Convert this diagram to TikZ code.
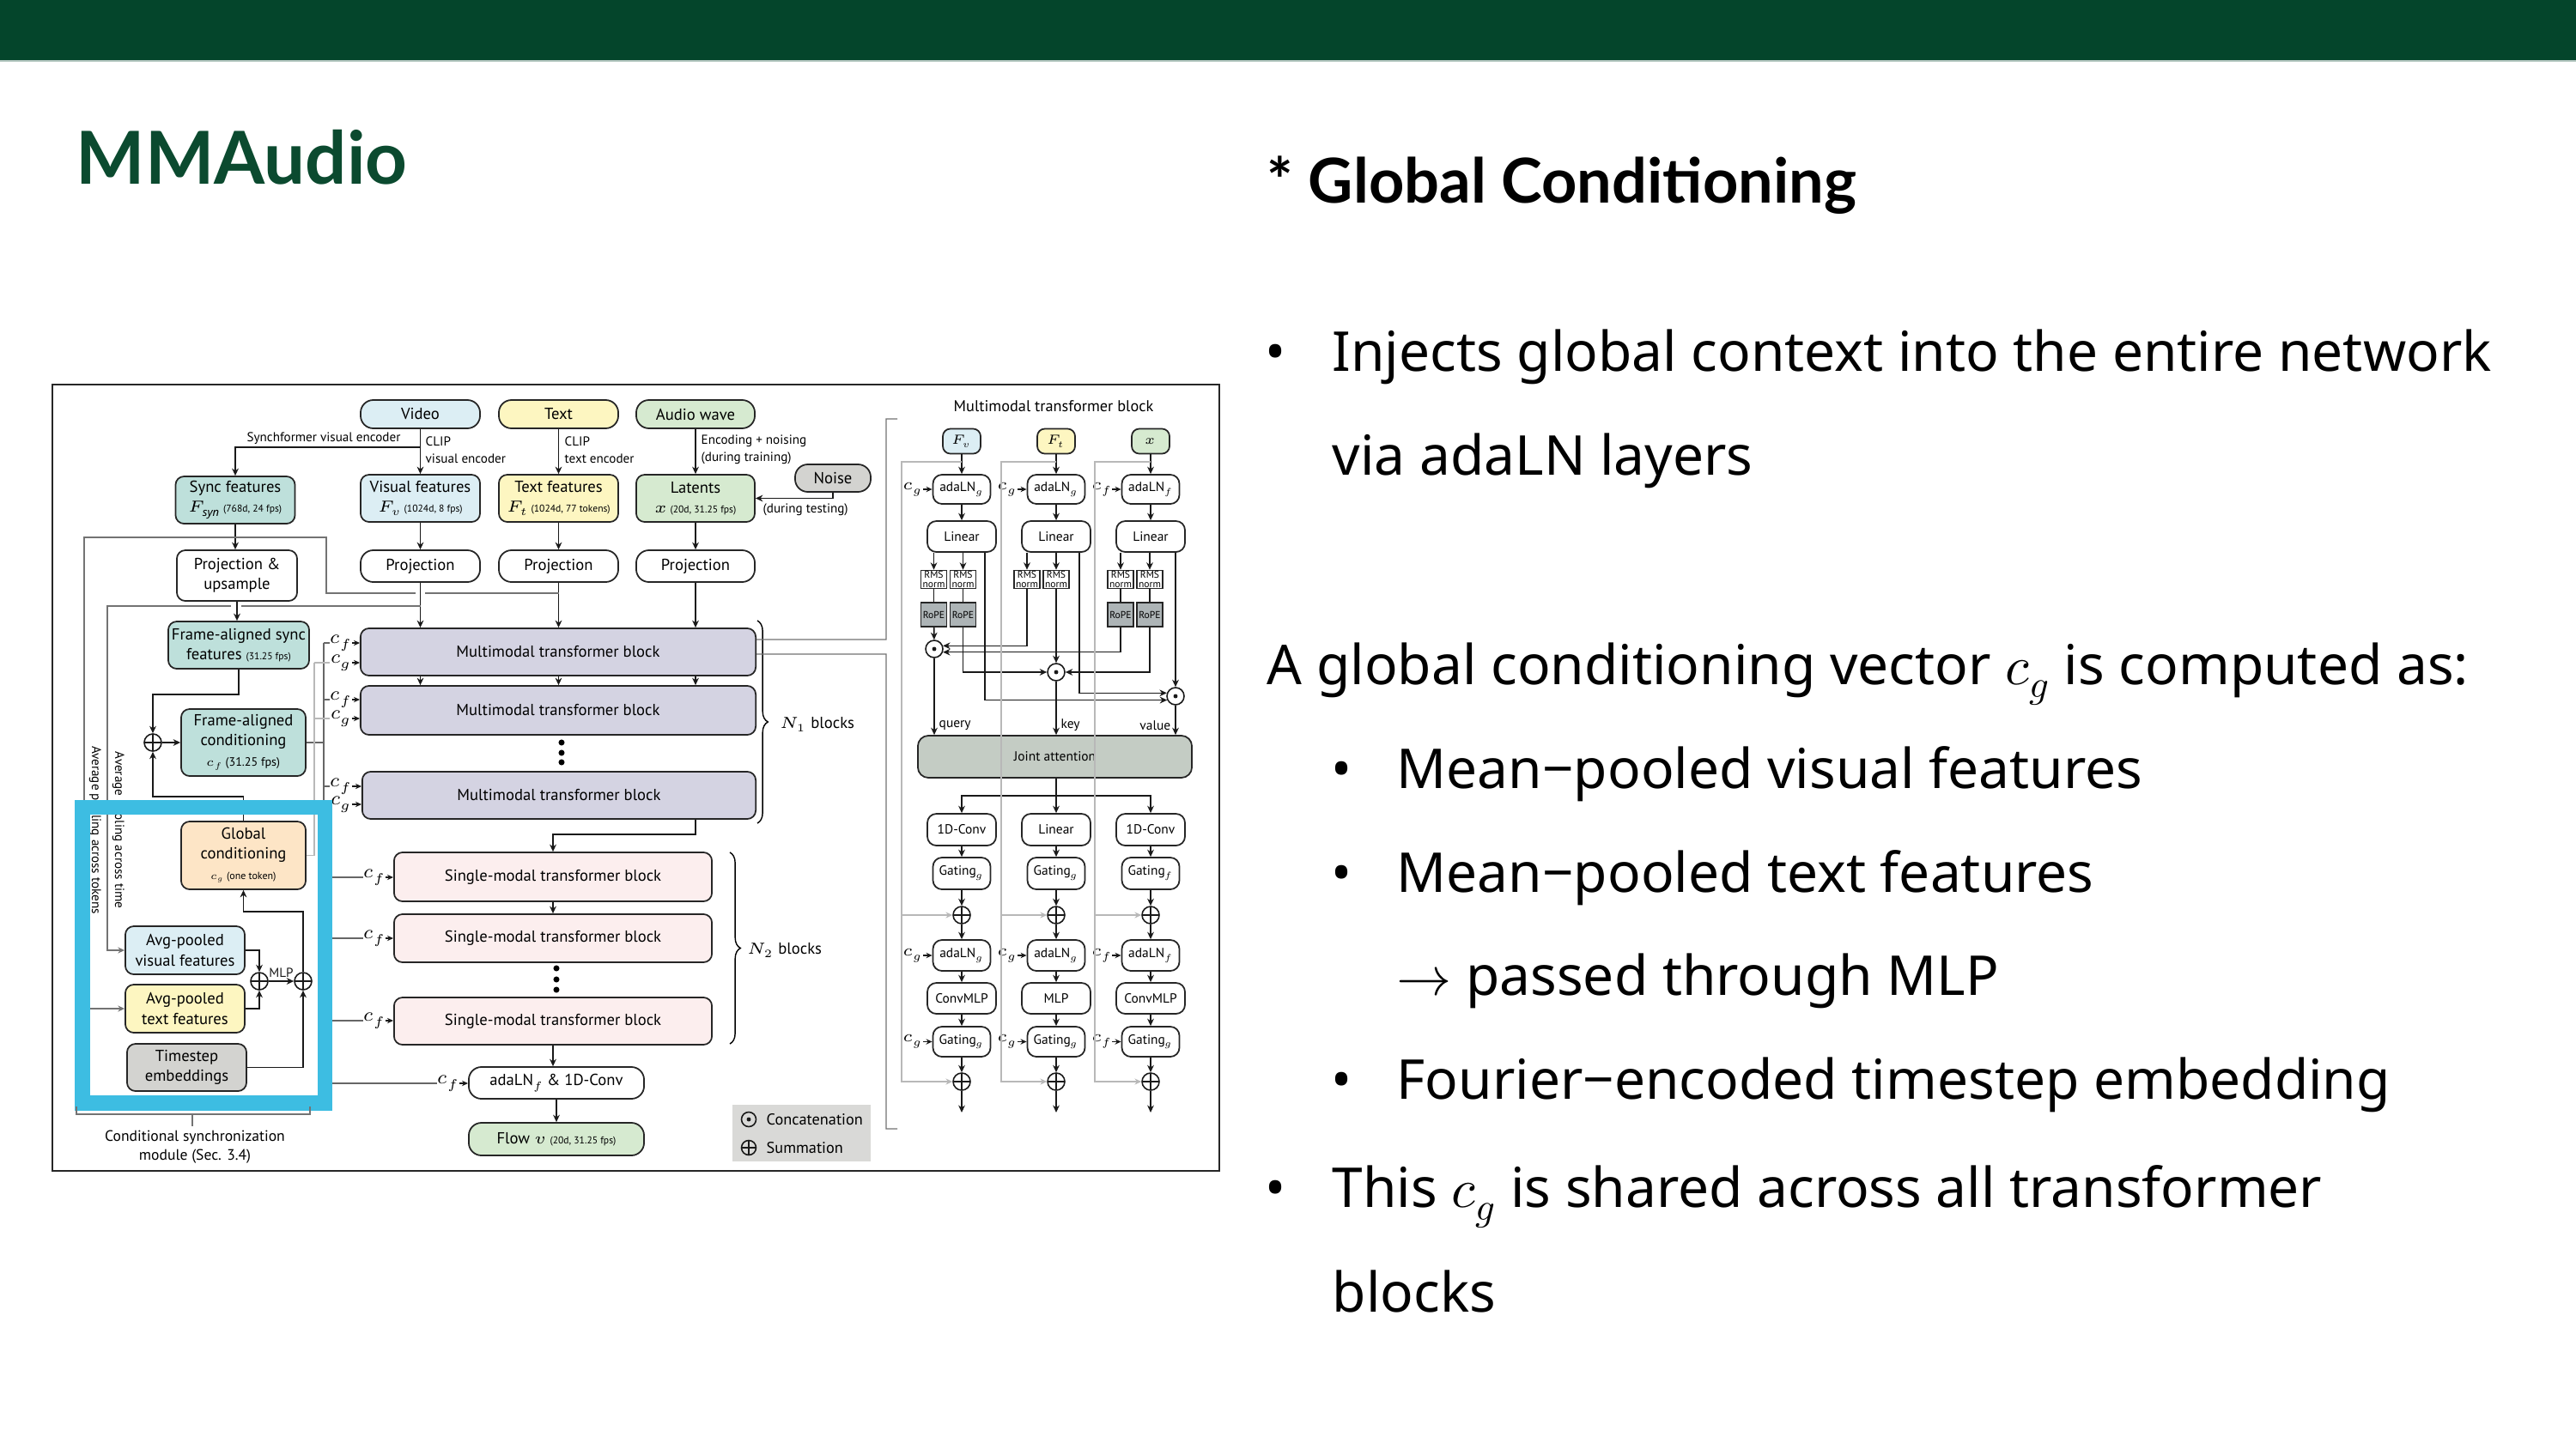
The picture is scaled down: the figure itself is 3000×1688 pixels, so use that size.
\documentclass[tikz,border=0pt]{standalone}
\usepackage{fontspec}
\usepackage{unicode-math}
\setmainfont{Noto Sans}
\newfontfamily\dfont{PT Sans}
\newfontfamily\lfont{Lato}
\usetikzlibrary{arrows.meta,calc,decorations.pathreplacing}
\definecolor{hdr}{HTML}{04452B}
\definecolor{ttlg}{HTML}{0B4A2F}
\definecolor{cblue}{HTML}{DCEEF4}
\definecolor{cyel}{HTML}{FDF6C1}
\definecolor{cgrn}{HTML}{D6EAD0}
\definecolor{cteal}{HTML}{BEE0DB}
\definecolor{corg}{HTML}{FDE5C6}
\definecolor{clav}{HTML}{D4D3E2}
\definecolor{cpink}{HTML}{FCEEEE}
\definecolor{cgry}{HTML}{D3D3D0}
\definecolor{catt}{HTML}{C4CCC4}
\definecolor{crope}{HTML}{ADB4B6}
\definecolor{cleg}{HTML}{D9D9D7}
\definecolor{hilite}{HTML}{3DBDE2}
\newcommand\smallnote[1]{{\fontsize{3.3}{4}\selectfont #1}}
\begin{document}
\begin{tikzpicture}[x=0.01cm,y=-0.01cm,
  nd/.style={draw=black!85, line width=0.5pt, rounded corners=2.8pt, align=center, inner sep=0pt, font=\dfont\fontsize{5.3}{6.6}\selectfont},
  pill/.style={nd, rounded corners=4.2pt},
  pn/.style={nd, font=\dfont\fontsize{4.4}{5.2}\selectfont, rounded corners=3pt},
  rmsbox/.style={draw=black!85, line width=0.45pt, fill=white, minimum width=0.30cm, minimum height=0.21cm, inner sep=0pt, align=center, font=\dfont\fontsize{3.3}{3.0}\selectfont},
  ropebox/.style={rmsbox, fill=crope, minimum height=0.28cm},
  arr/.style={-{Stealth[length=2.4pt,width=2.2pt]}, line width=0.45pt, black!90},
  sarr/.style={-{Stealth[length=2pt,width=1.8pt]}, line width=0.45pt, black!90},
  lnk/.style={line width=0.45pt, black!90},
  gl/.style={line width=0.4pt, black!55},
  cfl/.style={line width=0.4pt, black!60},
  lg/.style={line width=0.4pt, black!28},
  garr/.style={-{Stealth[length=2.2pt,width=2pt]}},
  lbl/.style={font=\dfont\fontsize{4.3}{5.6}\selectfont, inner sep=0pt, align=left},
  cmk/.style={inner sep=0pt, font=\fontsize{6.3}{7}\selectfont},
  cmrk/.style={inner sep=0pt, font=\fontsize{5.3}{6}\selectfont},
  sumn/.style={circle, draw=black!90, line width=0.45pt, minimum size=0.2cm, inner sep=0pt, path picture={\draw[line width=0.45pt, black!90] (path picture bounding box.north) -- (path picture bounding box.south) (path picture bounding box.west) -- (path picture bounding box.east);}},
  catn/.style={circle, draw=black!90, fill=white, line width=0.45pt, minimum size=0.2cm, inner sep=0pt, path picture={\fill[black!90] (path picture bounding box.center) circle (0.7pt);}},
  bodytxt/.style={anchor=base west, inner sep=0pt, font=\fontsize{18.2}{22}\selectfont},
  bul/.style={anchor=base, inner sep=0pt, font=\fontsize{18.2}{22}\selectfont},
]
% ---------- background ----------
\fill[white] (0,0) rectangle (3000,1688);
\path[use as bounding box] (0,0) rectangle (3000,1688);
\fill[hdr] (0,0) rectangle (3000,70);
\fill[hdr!30!white] (0,70) rectangle (3000,72);

% ---------- slide text ----------
\node[anchor=base west, inner sep=0pt, text=ttlg, font=\lfont\bfseries\fontsize{24.2}{29}\selectfont] (mmt) at (88,215) {MMAudio};
\node[anchor=base west, inner sep=0pt, font=\lfont\bfseries\fontsize{20.5}{25}\selectfont] (gct) at (1475,237) {* Global Conditioning};
\node[bul] (u1) at (1486,432) {•};
\node[bodytxt] (t1) at (1551,432) {Injects global context into the entire network};
\node[bodytxt] (t2) at (1551,553) {via adaLN layers};
\node[bodytxt] (t3) at (1475,797) {A global conditioning vector $c_g$ is computed as:};
\node[bul] (u2) at (1563,918) {•};
\node[bodytxt] (t4) at (1626,918) {Mean−pooled visual features};
\node[bul] (u3) at (1563,1039) {•};
\node[bodytxt] (t5) at (1626,1039) {Mean−pooled text features};
\node[bodytxt] (t6) at (1626,1159) {$\rightarrow$ passed through MLP};
\node[bul] (u4) at (1563,1280) {•};
\node[bodytxt] (t7) at (1626,1280) {Fourier−encoded timestep embedding};
\node[bul] (u5) at (1486,1406) {•};
\node[bodytxt] (t8) at (1551,1406) {This $c_g$ is shared across all transformer};
\node[bodytxt] (t9) at (1551,1528) {blocks};

% ---------- diagram frame ----------
\draw[line width=0.6pt, black!85] (61,448) rectangle (1420,1364);

% ---------- inputs ----------
\node[pill, fill=cblue, minimum width=1.39cm, minimum height=0.33cm] (video) at (489.5,482.5) {Video};
\node[pill, fill=cyel, minimum width=1.39cm, minimum height=0.33cm] (textin) at (650.5,482.5) {Text};
\node[pill, fill=cgrn, minimum width=1.38cm, minimum height=0.33cm] (audio) at (810,482.5) {Audio wave};
\node[pill, fill=cgry, minimum width=0.88cm, minimum height=0.32cm] (noise) at (970,557) {Noise};

\node[lbl, anchor=west] (clipv) at (495,524) {CLIP\\visual encoder};
\node[lbl, anchor=west] (clipt) at (657,524) {CLIP\\text encoder};
\node[lbl, anchor=west] (encn) at (816,524) {Encoding + noising\\(during training)};
\node[lbl, anchor=west] (dtest) at (888,594) {(during testing)};
\node[lbl, anchor=south] (synch) at (377,518) {Synchformer visual encoder};

\node[nd, fill=cteal, minimum width=1.39cm, minimum height=0.55cm] (sync) at (274,582.5) {Sync features\\$F_{\mathit{syn}}$\,\smallnote{(768d, 24 fps)}};
\node[nd, fill=cblue, minimum width=1.39cm, minimum height=0.55cm] (visf) at (489.5,580.5) {Visual features\\$F_v$\,\smallnote{(1024d, 8 fps)}};
\node[nd, fill=cyel, minimum width=1.39cm, minimum height=0.55cm] (textf) at (650.5,580.5) {Text features\\$F_t$\,\smallnote{(1024d, 77 tokens)}};
\node[nd, fill=cgrn, minimum width=1.38cm, minimum height=0.55cm] (lat) at (810,580.5) {Latents\\$x$\,\smallnote{(20d, 31.25 fps)}};

\node[pill, fill=white, minimum width=1.39cm, minimum height=0.37cm] (projv) at (489.5,659.5) {Projection};
\node[pill, fill=white, minimum width=1.39cm, minimum height=0.37cm] (projt) at (650.5,659.5) {Projection};
\node[pill, fill=white, minimum width=1.38cm, minimum height=0.37cm] (proja) at (810,659.5) {Projection};
\node[nd, fill=white, minimum width=1.40cm, minimum height=0.59cm] (projs) at (276,670.5) {Projection \&\\upsample};
\node[nd, fill=cteal, minimum width=1.64cm, minimum height=0.55cm] (fas) at (278,751.5) {Frame-aligned sync\\features \smallnote{(31.25 fps)}};
\node[nd, fill=cteal, minimum width=1.45cm, minimum height=0.78cm] (fac) at (283.5,865) {Frame-aligned\\conditioning\\{\fontsize{4}{5}\selectfont$c_f$ (31.25 fps)}};
\node[nd, fill=corg, minimum width=1.45cm, minimum height=0.79cm] (glob) at (283.5,996.5) {Global\\conditioning\\{\fontsize{3.4}{4.5}\selectfont$c_g$ (one token)}};
\node[nd, fill=cblue, minimum width=1.39cm, minimum height=0.56cm] (avgv) at (215.5,1107) {Avg-pooled\\visual features};
\node[nd, fill=cyel, minimum width=1.39cm, minimum height=0.56cm] (avgt) at (215.5,1175) {Avg-pooled\\text features};
\node[nd, fill=cgry, minimum width=1.39cm, minimum height=0.55cm] (tstep) at (217.5,1243.5) {Timestep\\embeddings};
\node[sumn] (sumA) at (178,865) {};
\node[sumn] (sum1) at (302,1143) {};
\node[sumn] (sum2) at (353,1143) {};

% ---------- main column ----------
\node[nd, fill=clav, minimum width=4.60cm, minimum height=0.55cm] (mm1) at (650,759.5) {Multimodal transformer block};
\node[nd, fill=clav, minimum width=4.60cm, minimum height=0.57cm] (mm2) at (650,827.5) {Multimodal transformer block};
\node[nd, fill=clav, minimum width=4.58cm, minimum height=0.55cm] (mm3) at (651,926.5) {Multimodal transformer block};
\fill (654,865) circle (1pt) (654,877) circle (1pt) (654,888) circle (1pt);
\node[nd, fill=cpink, minimum width=3.70cm, minimum height=0.57cm] (sm1) at (644,1021.5) {Single-modal transformer block};
\node[nd, fill=cpink, minimum width=3.70cm, minimum height=0.56cm] (sm2) at (644,1093) {Single-modal transformer block};
\node[nd, fill=cpink, minimum width=3.70cm, minimum height=0.55cm] (sm3) at (644,1189.5) {Single-modal transformer block};
\fill (648,1128) circle (1pt) (648,1141) circle (1pt) (648,1153) circle (1pt);
\node[pill, fill=white, minimum width=2.04cm, minimum height=0.37cm] (ada) at (648,1261.5) {adaLN$_f$ \& 1D-Conv};
\node[pill, fill=cgrn, minimum width=2.04cm, minimum height=0.38cm] (flow) at (648,1327) {Flow $v$ \smallnote{(20d, 31.25 fps)}};

\draw[decorate, decoration={brace, amplitude=3.5pt}, line width=0.4pt] (882,723) -- (882,959);
\node[anchor=west, inner sep=0pt, font=\dfont\fontsize{5.3}{6}\selectfont] (n1) at (908,844) {$N_1$ blocks};
\draw[decorate, decoration={brace, amplitude=3.5pt}, line width=0.4pt] (850,993) -- (850,1216);
\node[anchor=west, inner sep=0pt, font=\dfont\fontsize{5.3}{6}\selectfont] (n2) at (870,1107) {$N_2$ blocks};

% ---------- main arrows ----------
\draw[arr] (video) -- (visf);
\coordinate (vb) at (489.5,521);
\draw[arr] (vb) -| (sync.north);
\draw[arr] (textin) -- (textf);
\draw[arr] (audio) -- (lat);
\draw[arr] (noise.south) |- (lat.east);
\draw[arr] (visf) -- (projv);
\draw[arr] (textf) -- (projt);
\draw[arr] (lat) -- (proja);
\draw[arr] (sync.south) -- (sync.south |- projs.north);
\draw[arr] (projs.south) -- (projs.south |- fas.north);
\draw[arr] (projv) -- (projv |- mm1.north);
\draw[arr] (projt) -- (projt |- mm1.north);
\draw[arr] (proja) -- (proja |- mm1.north);
\draw[arr] (projv |- mm1.south) -- (projv |- mm2.north);
\draw[arr] (projt |- mm1.south) -- (projt |- mm2.north);
\draw[arr] (proja |- mm1.south) -- (proja |- mm2.north);
\draw[arr] (proja |- mm3.south) -- ++(0,17) -| (sm1.north);
\draw[arr] (sm1.south) -- (sm1.south |- sm2.north);
\draw[arr] (sm3.south) -- (sm3.south |- ada.north);
\draw[arr] (ada) -- (flow);

% ---------- pooling lines ----------
\coordinate (ot) at (650.5,691);
\draw[gl] (ot) -- (495,691);
\draw[gl, garr] (484,691) -- (380,691) -- (380,626) -- (98,626) |- (avgt.west);
\coordinate (iv) at (489.5,706);
\draw[gl] (iv) -- (281,706);
\draw[gl, garr] (269,706) -- (125,706) |- (avgv.west);
\node[lbl, rotate=-90] (avtok) at (111,967) {Average pooling across tokens};
\node[lbl, rotate=-90] (avtime) at (138,967) {Average pooling across time};

% ---------- conditioning arrows ----------
\draw[arr] (fas.south) -- ++(0,29) -| (sumA.north);
\draw[arr] (glob.north) -- ++(0,-28) -| (sumA.south);
\draw[arr] (sumA) -- (fac);
\draw[arr] (avgv.east) -| (sum1.north);
\draw[arr] (avgt.east) -| (sum1.south);
\draw[arr] (sum1) -- node[lbl, above=1.2pt] (mlpl) {MLP} (sum2);
\draw[arr] (tstep.east) -| (sum2.south);
\draw[arr] (sum2.north) -- ++(0,-70) -| (glob.south);

% c_f distribution
\draw[cfl] (fac.east) -- (377,865);
\draw[cfl] (377,749) -- (377,1262);
\foreach \n/\y/\tg in {1/749/mm1, 2/815/mm2, 3/916/mm3} {
  \node[cmk] (cfm\n) at (397,\y) {$c_f$};
  \draw[cfl] (377,\y) -- (cfm\n.west);
  \draw[sarr] (cfm\n.east) -- (cfm\n.east -| \tg.west);
}
% c_g distribution
\draw[lg] (glob.east) -- (366,996.5) -- (366,772);
\foreach \n/\y/\tg in {1/772/mm1, 2/837/mm2, 3/937/mm3} {
  \node[cmk] (cgm\n) at (397,\y) {$c_g$};
  \draw[lg] (366,\y) -- (cgm\n.west);
  \draw[sarr] (cgm\n.east) -- (cgm\n.east -| \tg.west);
}
\foreach \n/\y/\tg in {1/1022/sm1, 2/1093/sm2, 3/1189/sm3} {
  \node[cmk] (cfs\n) at (436,\y) {$c_f$};
  \draw[cfl] (377,\y) -- (cfs\n.west);
  \draw[sarr] (cfs\n.east) -- (cfs\n.east -| \tg.west);
}
\node[cmk] (cfa) at (522,1262) {$c_f$};
\draw[cfl] (377,1262) -- (cfa.west);
\draw[sarr] (cfa.east) -- (cfa.east -| ada.west);

% highlight box
\draw[hilite, line width=4.9pt] (96,940.5) rectangle (378.5,1285);

% module bracket
\draw[gl] (89,1289) -- (89,1298) -- (361,1298) -- (361,1289);
\draw[gl] (224,1298) -- (224,1312);
\node[font=\dfont\fontsize{5}{6.3}\selectfont, align=center, inner sep=0pt] (csm) at (227,1336) {Conditional synchronization\\module (Sec. 3.4)};

% legend
\node[fill=cleg, minimum width=1.61cm, minimum height=0.66cm, inner sep=0pt] (leg) at (933.5,1320) {};
\node[catn, fill=cleg, minimum size=0.17cm] (lc) at (872,1304) {};
\node[sumn, minimum size=0.17cm] (ls) at (872,1337) {};
\node[anchor=west, inner sep=0pt, font=\dfont\fontsize{5.2}{6}\selectfont] (lct) at (892,1304) {Concatenation};
\node[anchor=west, inner sep=0pt, font=\dfont\fontsize{5.2}{6}\selectfont] (lst) at (892,1337) {Summation};

% ---------- zoom bracket ----------
\draw[gl] ([yshift=0.145cm]mm1.east) -- (1032,745) -- (1032,488) -- (1045,488);
\draw[gl] ([yshift=-0.025cm]mm1.east) -- (1032,762) -- (1032,1315) -- (1045,1315);

% ---------- right panel ----------
\node[inner sep=0pt, font=\dfont\fontsize{5.2}{6}\selectfont] (rtitle) at (1227,473) {Multimodal transformer block};

\foreach \c/\x in {A/1120, B/1230, C/1340} {
  \coordinate (rt\c) at (\x,538);
}
\node[pn, fill=cblue, minimum width=0.44cm, minimum height=0.29cm, rounded corners=2.5pt] (fv) at (1120,514) {$F_v$};
\node[pn, fill=cyel, minimum width=0.44cm, minimum height=0.29cm, rounded corners=2.5pt] (ft) at (1230,514) {$F_t$};
\node[pn, fill=cgrn, minimum width=0.44cm, minimum height=0.29cm, rounded corners=2.5pt] (fx) at (1340,514) {$x$};

\foreach \c/\x/\s/\cl in {A/1120/g/g, B/1230/g/g, C/1340/f/f} {
  \node[pn, fill=white, minimum width=0.67cm, minimum height=0.34cm] (ad\c) at (\x,570) {adaLN$_\s$};
  \node[cmrk] (ci\c) at (\x-57,570) {$c_\cl$};
  \draw[sarr] (ci\c) -- (ad\c);
  \node[pn, fill=white, minimum width=0.80cm, minimum height=0.36cm] (lin\c) at (\x,625) {Linear};
  \draw[arr] (ad\c) -- (lin\c);
}
\draw[arr] (fv) -- (adA);
\draw[arr] (ft) -- (adB);
\draw[arr] (fx) -- (adC);

\node[rmsbox] (rA1) at (1087.5,675) {RMS\\norm};
\node[rmsbox] (rA2) at (1121.5,675) {RMS\\norm};
\node[rmsbox] (rB1) at (1196,675) {RMS\\norm};
\node[rmsbox] (rB2) at (1230,675) {RMS\\norm};
\node[rmsbox] (rC1) at (1305,675) {RMS\\norm};
\node[rmsbox] (rC2) at (1339,675) {RMS\\norm};
\node[ropebox] (pA1) at (1087.5,716) {RoPE};
\node[ropebox] (pA2) at (1121.5,716) {RoPE};
\node[ropebox] (pC1) at (1305,716) {RoPE};
\node[ropebox] (pC2) at (1339,716) {RoPE};
\foreach \r/\l in {rA1/linA, rA2/linA, rB1/linB, rB2/linB, rC1/linC, rC2/linC} {
  \draw[arr] (\l.south -| \r) -- (\r.north);
}
\draw[lnk] (rA1) -- (pA1);
\draw[lnk] (rA2) -- (pA2);
\draw[lnk] (rC1) -- (pC1);
\draw[lnk] (rC2) -- (pC2);

\node[catn] (qc) at (1088,756) {};
\node[catn] (kc) at (1230,783) {};
\node[catn] (vc) at (1369,811) {};
\draw[arr] (pA1) -- (qc);
\draw[arr] (rB1.south) |- (qc.20);
\draw[arr] (pC1.south) |- (qc.-20);
\draw[arr] (pA2.south) |- (kc.west);
\draw[arr] (rB2) -- (kc);
\draw[arr] (pC2.south) |- (kc.east);
\draw[arr] ([xshift=0.27cm]linA.south) |- (vc.205);
\draw[arr] ([xshift=0.27cm]linB.south) |- (vc.160);
\draw[arr] ([xshift=0.29cm]linC.south) -- (vc.north);

\node[pn, fill=catt, minimum width=3.19cm, minimum height=0.49cm, rounded corners=3.5pt] (att) at (1228.5,881.5) {Joint attention};
\draw[arr] (qc) -- (qc |- att.north);
\draw[arr] (kc) -- (kc |- att.north);
\draw[arr] (vc) -- (vc |- att.north);
\node[lbl, anchor=west, font=\dfont\fontsize{4.4}{5}\selectfont] (ql) at (1093,845) {query};
\node[lbl, anchor=west, font=\dfont\fontsize{4.4}{5}\selectfont] (kl) at (1235,845) {key};
\node[lbl, anchor=east, font=\dfont\fontsize{4.4}{5}\selectfont] (vl) at (1364,845) {value};

\coordinate (spl) at (1230,927);
\draw[lnk] (kc |- att.south) -- (spl);

\foreach \c/\x/\cv/\ga/\cb/\ml in {A/1120/1D-Conv/g/g/ConvMLP, B/1230/Linear/g/g/MLP, C/1340/1D-Conv/f/f/ConvMLP} {
  \node[pn, fill=white, minimum width=0.80cm, minimum height=0.37cm] (cv\c) at (\x,966.5) {\cv};
  \node[pn, fill=white, minimum width=0.67cm, minimum height=0.37cm] (ga\c) at (\x,1017.5) {Gating$_\ga$};
  \node[sumn] (sa\c) at (\x,1066) {};
  \node[pn, fill=white, minimum width=0.67cm, minimum height=0.36cm] (ab\c) at (\x,1113) {adaLN$_\cb$};
  \node[cmrk] (cb\c) at (\x-57,1113) {$c_\cb$};
  \node[pn, fill=white, minimum width=0.80cm, minimum height=0.36cm] (ml\c) at (\x,1163) {\ml};
  \node[pn, fill=white, minimum width=0.67cm, minimum height=0.35cm] (gb\c) at (\x,1213.5) {Gating$_g$};
  \node[cmrk] (cc\c) at (\x-57,1213.5) {$c_\cb$};
  \node[sumn] (sb\c) at (\x,1260) {};
  \coordinate (out\c) at (\x,1296);
  \draw[arr] (spl) -| (cv\c.north);
  \draw[arr] (cv\c) -- (ga\c);
  \draw[arr] (ga\c) -- (sa\c);
  \draw[arr] (sa\c) -- (ab\c);
  \draw[arr] (ab\c) -- (ml\c);
  \draw[arr] (ml\c) -- (gb\c);
  \draw[arr] (gb\c) -- (sb\c);
  \draw[arr] (sb\c) -- (out\c);
  \draw[sarr] (cb\c) -- (ab\c);
  \draw[sarr] (cc\c) -- (gb\c);
}
\foreach \c/\r in {A/1050, B/1166, C/1275} {
  \draw[lg, garr] (rt\c) -- (\r,538) -- (\r,1260) -- (sb\c.west);
  \draw[lg, garr] (\r,1066) -- (sa\c.west);
}
\end{tikzpicture}
\end{document}
